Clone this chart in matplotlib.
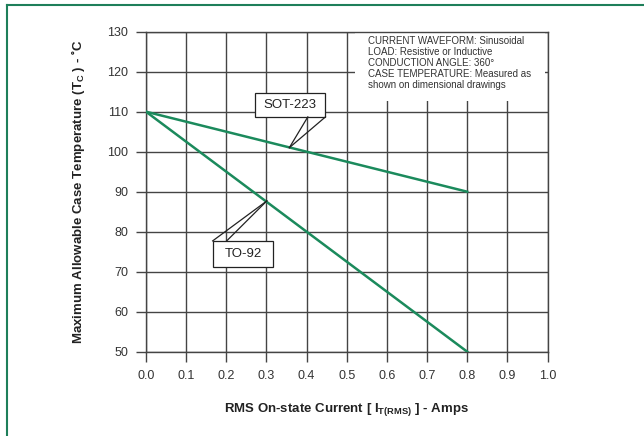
import matplotlib
matplotlib.use("Agg")
import matplotlib.pyplot as plt
from matplotlib.patches import Rectangle
import numpy as np

# RMS current (A) vs max allowable case temperature (C)
current = [0.0, 0.8]
sot223 = [110, 90]
to92 = [110, 50]

x_ticks = np.round(np.arange(0, 1.01, 0.1), 1)
y_ticks = np.arange(50, 131, 10)

notes = ["CURRENT WAVEFORM: Sinusoidal",
         "LOAD: Resistive or Inductive",
         "CONDUCTION ANGLE: 360\u00b0",
         "CASE TEMPERATURE: Measured as",
         "shown on dimensional drawings"]

plt.rcParams["font.family"] = ["Liberation Sans", "DejaVu Sans"]
plt.rcParams["mathtext.fontset"] = "custom"
plt.rcParams["mathtext.rm"] = "Liberation Sans"
plt.rcParams["mathtext.bf"] = "Liberation Sans:bold"

green = "#1b8a5c"
gridc = "#444444"

fig = plt.figure(figsize=(6.44, 4.36), dpi=100)
ax = fig.add_axes([146 / 644, 1 - 351.7 / 436, 401.5 / 644, 320 / 436])

ax.set_xlim(0, 1.0)
ax.set_ylim(50, 130)
ax.set_xticks(x_ticks, [f"{v:.1f}" for v in x_ticks])
ax.set_yticks(y_ticks)
ax.tick_params(direction="out", length=7, width=1, color=gridc,
               labelsize=9, labelcolor="#333333", pad=6)
ax.grid(True, color=gridc, lw=1, zorder=0)
ax.set_axisbelow(True)
for s in ax.spines.values():
    s.set_color(gridc)
    s.set_linewidth(1)

ax.plot(current, sot223, color=green, lw=1.8, zorder=3)
ax.plot(current, to92, color=green, lw=1.8, zorder=3)

# notes box (white, hides the grid behind it)
ax.add_patch(Rectangle((0.52, 112.7), 0.475, 17.0, facecolor="white",
                       edgecolor="none", zorder=2))
for i, line in enumerate(notes):
    ax.text(0.553, 127.6 - i * 2.72, line, fontsize=7, color="#333333",
            va="center", ha="left", zorder=4,
            family=["Liberation Sans Narrow", "Liberation Sans"])

# callout boxes
def callout(x0, x1, y0, y1, label, tip, bases):
    ax.add_patch(Rectangle((x0, y0), x1 - x0, y1 - y0, facecolor="white",
                           edgecolor="#222222", lw=0.9, zorder=4))
    ax.text((x0 + x1) / 2, (y0 + y1) / 2, label, fontsize=9.5,
            color="#222222", ha="center", va="center", zorder=5)
    for bx, by in bases:
        ax.plot([bx, tip[0]], [by, tip[1]], color="#222222", lw=0.9, zorder=4)

callout(0.2715, 0.447, 108.7, 114.6, "SOT-223", (0.357, 101.0),
        [(0.403, 108.7), (0.447, 108.7)])
callout(0.166, 0.317, 71.1, 77.7, "TO-92", (0.301, 87.7),
        [(0.166, 77.7), (0.201, 77.7)])

ax.set_ylabel("Maximum Allowable Case Temperature (T$_\\mathbf{C}$ ) - \u02daC",
              fontsize=9.5, fontweight="bold", color="#222222", labelpad=14)
ax.set_xlabel("RMS On-state Current [ I$_\\mathbf{T(RMS)}$ ] - Amps",
              fontsize=9.5, fontweight="bold", color="#222222", labelpad=14)

# green page frame (open on right and bottom)
fig.add_artist(plt.Line2D([7 / 644, 7 / 644], [0, 1 - 5 / 436],
                          transform=fig.transFigure, color="#1e7f5a", lw=1.5))
fig.add_artist(plt.Line2D([7 / 644, 1], [1 - 5 / 436, 1 - 5 / 436],
                          transform=fig.transFigure, color="#1e7f5a", lw=1.5))

fig.savefig("out.png", dpi=100)
